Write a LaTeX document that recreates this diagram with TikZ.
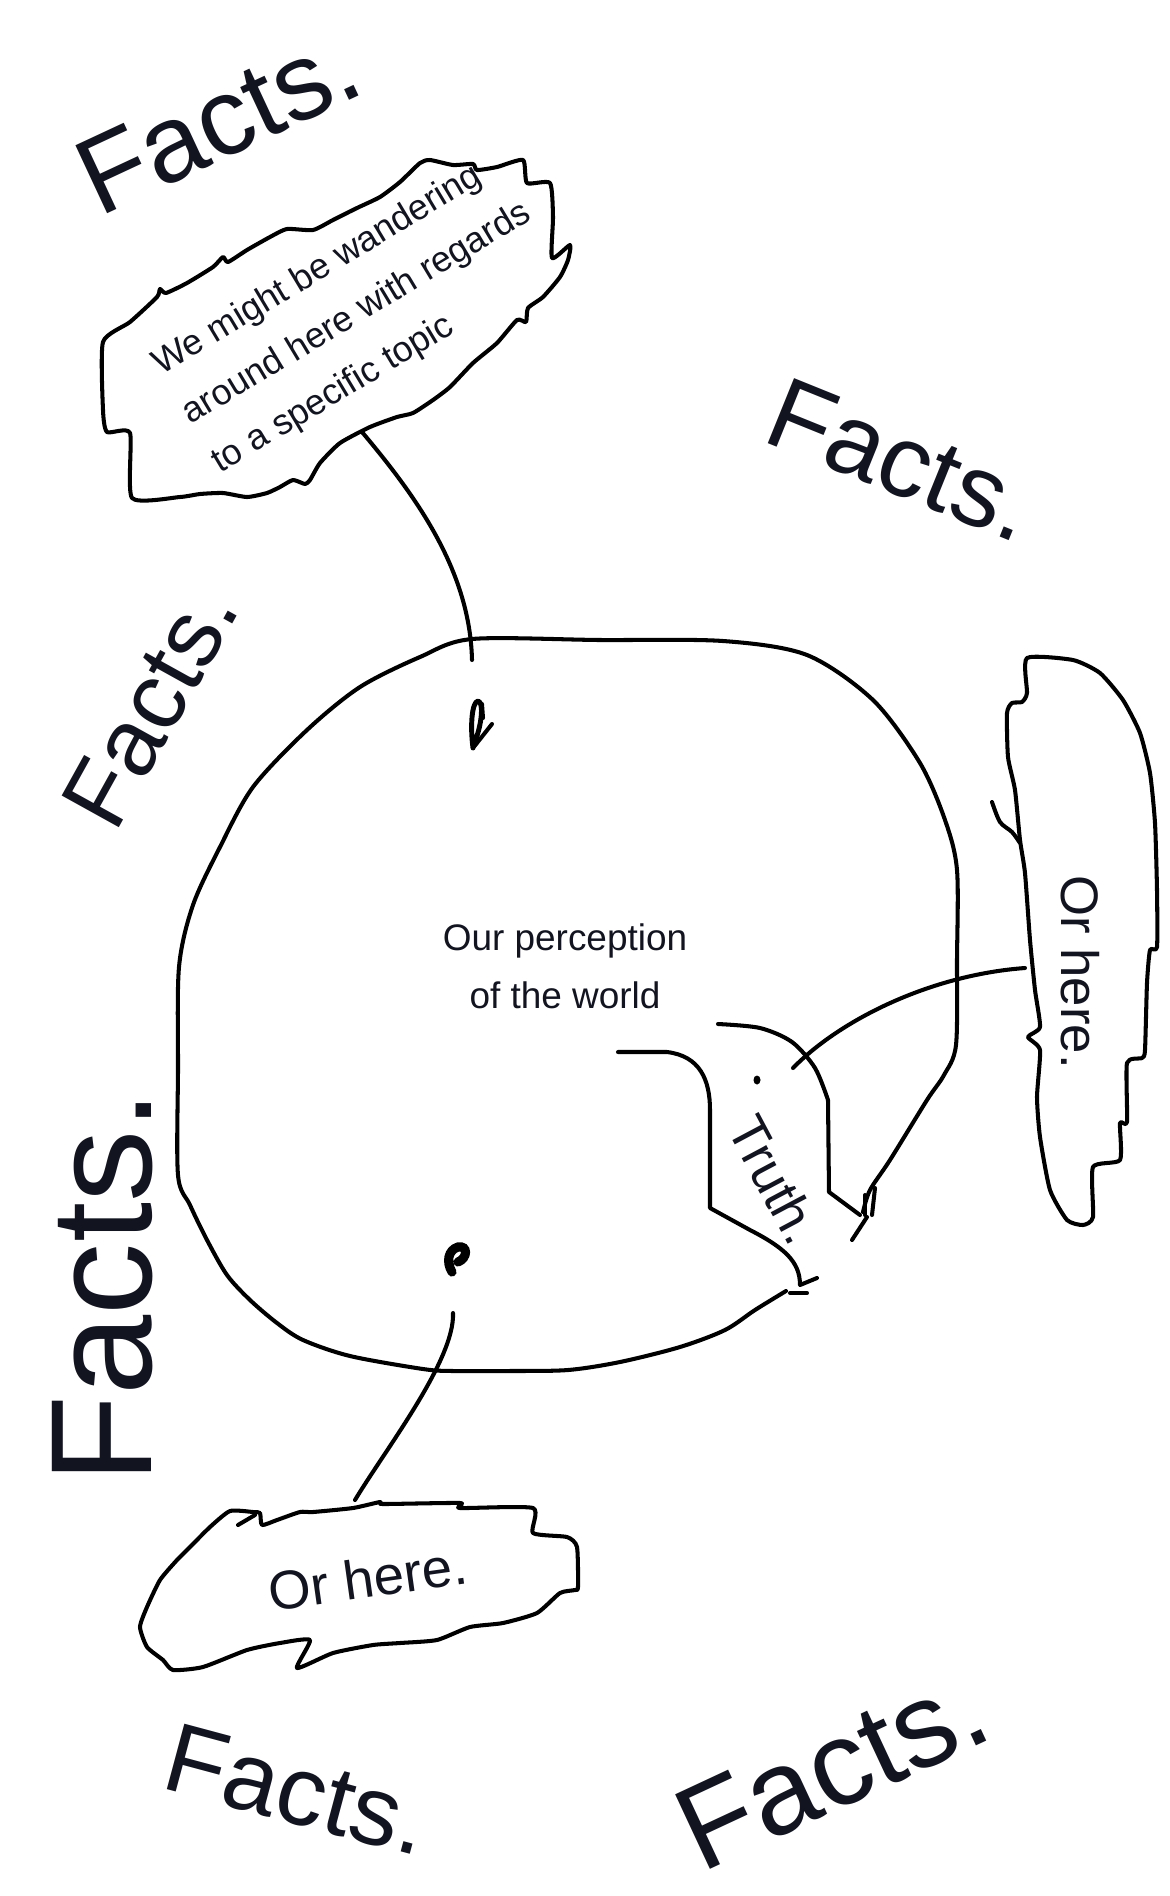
\documentclass[tikz,border=0pt]{standalone}
\usepackage{fontspec}
\setmainfont{Liberation Sans}
\definecolor{ink}{RGB}{18,20,32}
\tikzset{
  sketch/.style={line width=1.15pt, line cap=round, line join=round},
  facts/.style={text=ink, inner sep=0pt},
}

\begin{document}
\begin{tikzpicture}[x=0.01cm,y=-0.01cm]
    \fill[white] (0,0) rectangle (1170,1896);
    \useasboundingbox (0,0) rectangle (1170,1896);

    % the floating facts
    \foreach \name/\x/\y/\rot/\size in {factsA/218/121/25/31, factsB/902/460/-22/29, factsC/150/706/61/27, factsD/103/1287/90/41, factsE/298/1790/-15/28, factsF/832/1768/25/34}
    {
        \node[facts, rotate=\rot, font=\fontsize{\size}{\size}\selectfont] (\name) at (\x,\y) {Facts.};
    }

    % our perception
    \draw[sketch] plot[smooth, tension=0.5] coordinates {(786,1291) (755,1310) (725,1330) (680,1347) (620,1362) (568,1370) (510,1371) (453,1371) (423,1369) (350,1356) (303,1340) (277,1323) (250,1300) (227,1275) (207,1240) (190,1205) (178,1175) (178,1070) (179,967) (193,905) (220,847) (253,787) (307,730) (360,687) (420,657) (472,639) (600,640) (723,641) (807,655) (873,700) (920,763) (945,820) (957,870) (957,960) (956,1045) (944,1075) (927,1100) (890,1160) (870,1190) (863,1212)};
    \node[facts, align=center, font=\fontsize{10.5}{16.5}\selectfont] (world) at (565,966) {Our perception\\of the world};

    % the truth channel
    \draw[sketch] plot[smooth, tension=0.5] coordinates {(718,1024) (760,1028) (792,1042) (815,1068) (828,1100)} -- (829,1192) -- (860,1215);
    \draw[sketch] (618,1052) -- (667,1052) .. controls (700,1056) and (710,1080) .. (710,1110) -- (710,1208) -- (750,1230) .. controls (785,1248) and (800,1262) .. (800,1285) -- (817,1278);
    \draw[sketch] (867,1217) -- (852,1240);
    \draw[sketch] (865,1195) -- (865,1215);
    \draw[sketch] (875,1188) -- (872,1215);
    \draw[sketch] (790,1293) -- (807,1293);
    \fill (757,1080) ellipse (3.5 and 4.5);
    \node[facts, rotate=-62, font=\fontsize{15}{15}\selectfont] (truth) at (775,1180) {Truth.};

    % little scribbles
    \draw[sketch, line width=1.4pt] (473,748) .. controls (470,725) and (472,702) .. (478,701) .. controls (484,702) and (482,725) .. (474,744);
    \draw[sketch] (473,748) -- (492,724);
    \draw[sketch] (482,704) -- (483,718);
    \draw[line width=2.6pt, line cap=round] (452,1272) .. controls (446,1262) and (448,1250) .. (458,1247) .. controls (468,1245) and (468,1258) .. (458,1262);

    % wandering cloud
    \draw[sketch] plot[smooth cycle, tension=0.35] coordinates {(103,342) (130,322) (157,297) (160,289) (166,293) (187,283) (213,267) (223,257) (228,262) (247,250) (270,237) (287,229) (313,230) (333,220) (357,208) (380,197) (400,182) (420,163) (430,160) (453,165) (473,164) (477,170) (497,167) (523,160) (527,183) (550,183) (553,217) (552,258) (570,245) (568,260) (560,277) (543,297) (528,308) (526,322) (517,320) (497,343) (473,363) (450,387) (433,400) (413,413) (397,417) (370,427) (340,443) (320,463) (310,480) (305,484) (293,480) (280,487) (267,493) (247,497) (223,493) (200,494) (180,497) (132,498) (130,433) (107,432) (103,410)};
    \node[facts, rotate=31, align=left, font=\fontsize{10.2}{16.2}\selectfont] (wander) at (357,314) {We might be wandering\\around here with regards\\to a specific topic};

    % side cloud
    \draw[sketch] plot[smooth cycle, tension=0.35] coordinates {(1027,658) (1073,660) (1100,673) (1123,700) (1140,733) (1150,773) (1155,823) (1157,890) (1157,947) (1150,950) (1147,983) (1145,1050) (1142,1058) (1127,1063) (1127,1122) (1120,1123) (1120,1160) (1093,1167) (1093,1217) (1083,1225) (1067,1220) (1050,1190) (1040,1137) (1037,1097) (1040,1050) (1028,1037) (1040,1027) (1035,990) (1030,940) (1025,873) (1020,840) (1015,790) (1008,757) (1007,713) (1012,703) (1022,702) (1027,693)};
    \draw[sketch] plot[smooth] coordinates {(992,802) (1000,822) (1012,832) (1020,843)};
    \node[facts, rotate=-90, font=\fontsize{15}{15}\selectfont] (hereSide) at (1080,972) {Or here.};

    % low cloud
    \draw[sketch] plot[smooth cycle, tension=0.35] coordinates {(230,1511) (253,1512) (260,1513) (262,1525) (277,1520) (300,1512) (313,1512) (353,1508) (380,1502) (383,1504) (460,1503) (460,1508) (533,1508) (533,1533) (567,1537) (577,1547) (578,1587) (575,1590) (560,1593) (537,1613) (503,1623) (470,1627) (437,1640) (400,1643) (373,1645) (333,1653) (297,1668) (310,1640) (280,1643) (247,1650) (203,1667) (173,1670) (163,1660) (147,1647) (140,1627) (147,1607) (160,1580) (177,1560) (190,1547) (210,1527)};
    \draw[sketch] (238,1525) -- (255,1515);
    \node[facts, rotate=8, font=\fontsize{15.5}{15.5}\selectfont] (hereLow) at (368,1578) {Or here.};

    % connectors
    \coordinate (wanderTail) at (362,432);
    \coordinate (wanderEnd) at (472,660);
    \coordinate (lowTail) at (453,1313);
    \coordinate (lowEnd) at (355,1500);
    \coordinate (truthTail) at (793,1068);
    \coordinate (sideEnd) at (1025,968);
    \draw[sketch] (wanderTail) .. controls (415,495) and (470,570) .. (wanderEnd);
    \draw[sketch] (lowTail) .. controls (455,1360) and (385,1450) .. (lowEnd);
    \draw[sketch] (truthTail) .. controls (840,1020) and (930,975) .. (sideEnd);
\end{tikzpicture}
\end{document}
